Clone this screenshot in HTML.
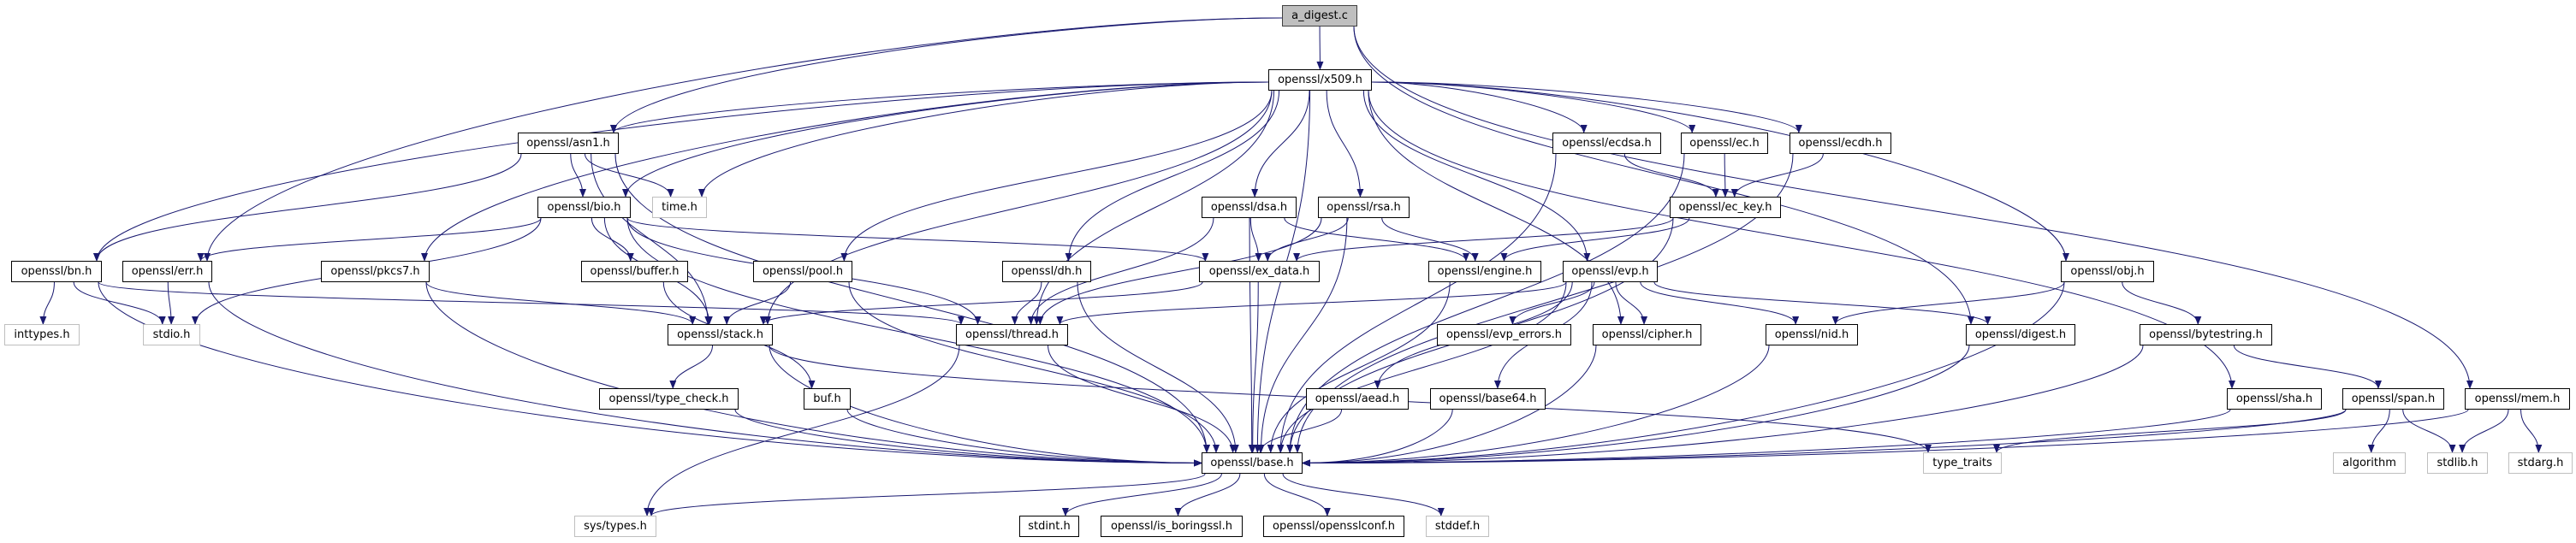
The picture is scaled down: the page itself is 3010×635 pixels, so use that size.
<!DOCTYPE html>
<html><head><meta charset="utf-8"><style>
html,body{margin:0;padding:0;background:#fff;}
#c{position:relative;width:3010px;height:635px;overflow:hidden;}
.n{position:absolute;box-sizing:border-box;height:25px;border:1px solid #000;background:#fff;font:13px "DejaVu Sans",sans-serif;line-height:23px;text-align:center;white-space:nowrap;color:#000;z-index:2;}
.g{border-color:#bfbfbf;}
.r{background:#bfbfbf;border-color:#404040;}
svg{position:absolute;left:0;top:0;z-index:1;}
</style></head><body><div id="c">
<svg id="s" width="3010" height="635" xmlns="http://www.w3.org/2000/svg"><defs><marker id="a" markerWidth="10" markerHeight="8" refX="9" refY="4" orient="auto" markerUnits="userSpaceOnUse"><path d="M0,0L10,4L0,8z" fill="#191970"/></marker></defs><g id="e" fill="none" stroke="#191970" stroke-width="1" marker-end="url(#a)"></g></svg>
<div class="n r" id="adigest" style="left:1498px;top:6px;width:88px">a_digest.c</div>
<div class="n" id="x509" style="left:1482px;top:81px;width:121px">openssl/x509.h</div>
<div class="n" id="asn1" style="left:605px;top:155px;width:118px">openssl/asn1.h</div>
<div class="n" id="ecdsa" style="left:1814px;top:155px;width:127px">openssl/ecdsa.h</div>
<div class="n" id="ec" style="left:1964px;top:155px;width:102px">openssl/ec.h</div>
<div class="n" id="ecdh" style="left:2091px;top:155px;width:119px">openssl/ecdh.h</div>
<div class="n" id="bio" style="left:628px;top:230px;width:109px">openssl/bio.h</div>
<div class="n g" id="time" style="left:762px;top:230px;width:64px">time.h</div>
<div class="n" id="dsa" style="left:1404px;top:230px;width:111px">openssl/dsa.h</div>
<div class="n" id="rsa" style="left:1540px;top:230px;width:107px">openssl/rsa.h</div>
<div class="n" id="eckey" style="left:1951px;top:230px;width:130px">openssl/ec_key.h</div>
<div class="n" id="bn" style="left:13px;top:305px;width:106px">openssl/bn.h</div>
<div class="n" id="err" style="left:143px;top:305px;width:105px">openssl/err.h</div>
<div class="n" id="pkcs7" style="left:375px;top:305px;width:127px">openssl/pkcs7.h</div>
<div class="n" id="buffer" style="left:679px;top:305px;width:125px">openssl/buffer.h</div>
<div class="n" id="pool" style="left:880px;top:305px;width:116px">openssl/pool.h</div>
<div class="n" id="dh" style="left:1171px;top:305px;width:104px">openssl/dh.h</div>
<div class="n" id="exdata" style="left:1401px;top:305px;width:141px">openssl/ex_data.h</div>
<div class="n" id="engine" style="left:1669px;top:305px;width:132px">openssl/engine.h</div>
<div class="n" id="evp" style="left:1826px;top:305px;width:111px">openssl/evp.h</div>
<div class="n" id="obj" style="left:2408px;top:305px;width:109px">openssl/obj.h</div>
<div class="n g" id="inttypes" style="left:5px;top:379px;width:88px">inttypes.h</div>
<div class="n g" id="stdio" style="left:167px;top:379px;width:67px">stdio.h</div>
<div class="n" id="stack" style="left:780px;top:379px;width:123px">openssl/stack.h</div>
<div class="n" id="thread" style="left:1117px;top:379px;width:131px">openssl/thread.h</div>
<div class="n" id="evperr" style="left:1679px;top:379px;width:157px">openssl/evp_errors.h</div>
<div class="n" id="cipher" style="left:1861px;top:379px;width:127px">openssl/cipher.h</div>
<div class="n" id="nid" style="left:2063px;top:379px;width:108px">openssl/nid.h</div>
<div class="n" id="digest" style="left:2297px;top:379px;width:128px">openssl/digest.h</div>
<div class="n" id="bytes" style="left:2500px;top:379px;width:155px">openssl/bytestring.h</div>
<div class="n" id="tcheck" style="left:700px;top:454px;width:163px">openssl/type_check.h</div>
<div class="n" id="buf" style="left:939px;top:454px;width:55px">buf.h</div>
<div class="n" id="aead" style="left:1526px;top:454px;width:120px">openssl/aead.h</div>
<div class="n" id="b64" style="left:1671px;top:454px;width:135px">openssl/base64.h</div>
<div class="n" id="sha" style="left:2602px;top:454px;width:111px">openssl/sha.h</div>
<div class="n" id="span" style="left:2737px;top:454px;width:119px">openssl/span.h</div>
<div class="n" id="mem" style="left:2880px;top:454px;width:123px">openssl/mem.h</div>
<div class="n" id="base" style="left:1404px;top:529px;width:118px">openssl/base.h</div>
<div class="n g" id="tt" style="left:2247px;top:529px;width:92px">type_traits</div>
<div class="n g" id="alg" style="left:2726px;top:529px;width:85px">algorithm</div>
<div class="n g" id="stdlib" style="left:2836px;top:529px;width:71px">stdlib.h</div>
<div class="n g" id="stdarg" style="left:2931px;top:529px;width:75px">stdarg.h</div>
<div class="n g" id="systypes" style="left:671px;top:603px;width:96px">sys/types.h</div>
<div class="n" id="stdint" style="left:1191px;top:603px;width:70px">stdint.h</div>
<div class="n" id="isb" style="left:1286px;top:603px;width:166px">openssl/is_boringssl.h</div>
<div class="n" id="conf" style="left:1476px;top:603px;width:165px">openssl/opensslconf.h</div>
<div class="n g" id="stddef" style="left:1666px;top:603px;width:74px">stddef.h</div>
</div>
<script>
var E=[["adigest","x509"],["adigest","asn1"],["adigest","err"],["adigest","digest"],["adigest","mem"],
["x509","asn1"],["x509","bio"],["x509","time"],["x509","pkcs7"],["x509","pool"],["x509","stack"],["x509","thread"],["x509","dh"],["x509","dsa"],["x509","rsa"],["x509","evp"],["x509","ecdsa"],["x509","ec"],["x509","ecdh"],["x509","cipher"],["x509","base"],["x509","obj"],["x509","sha"],["x509","bn"],
["asn1","bio"],["asn1","time"],["asn1","bn"],["asn1","stack"],["asn1","base"],
["bio","err"],["bio","stdio"],["bio","buffer"],["bio","stack"],["bio","thread"],["bio","exdata"],["bio","base"],
["bn","inttypes"],["bn","stdio"],["bn","thread"],["bn","base"],["err","stdio"],["err","base"],
["pkcs7","stack"],["pkcs7","base"],["buffer","buf"],["pool","stack"],["pool","base"],
["stack","tcheck"],["stack","base"],["stack","tt"],["tcheck","base"],["buf","base"],
["thread","base"],["thread","systypes"],
["dsa","exdata"],["dsa","thread"],["dsa","engine"],["dsa","base"],
["rsa","exdata"],["rsa","engine"],["rsa","thread"],["rsa","base"],
["dh","thread"],["dh","base"],["exdata","stack"],["exdata","base"],["engine","base"],
["ecdsa","eckey"],["ecdsa","base"],["ec","eckey"],["ec","base"],["eckey","exdata"],["eckey","engine"],["eckey","base"],
["ecdh","eckey"],["ecdh","base"],
["evp","thread"],["evp","evperr"],["evp","cipher"],["evp","nid"],["evp","digest"],["evp","aead"],["evp","b64"],["evp","base"],
["cipher","base"],["nid","base"],["digest","base"],["obj","nid"],["obj","bytes"],["obj","base"],
["bytes","span"],["bytes","base"],["sha","base"],["span","alg"],["span","stdlib"],["span","tt"],["span","base"],
["mem","stdlib"],["mem","stdarg"],["mem","base"],["aead","base"],["b64","base"],
["base","systypes"],["base","stdint"],["base","isb"],["base","conf"],["base","stddef"]];
function bx(id){var d=document.getElementById(id);return {x:d.offsetLeft,y:d.offsetTop,w:d.offsetWidth,h:d.offsetHeight};}
var g=document.getElementById("e"),h="";
E.forEach(function(p){var a=bx(p[0]),b=bx(p[1]);
var acx=a.x+a.w/2,bcx=b.x+b.w/2;
var sx,sy,tx,ty,c1x,c1y,c2x,c2y;
if(b.y<=a.y){sy=a.y;ty=b.y+b.h;sx=a.x+a.w*0.3;tx=b.x+b.w*0.7;
 h+='<path d="M'+sx+','+sy+' C'+sx+','+(sy-30)+' '+tx+','+(ty+30)+' '+tx+','+ty+'"/>';return;}
var dxv=bcx-acx,dyv=b.y-(a.y+a.h);
var right=dxv>0;
if((p[0]=="x509"||p[0]=="adigest")&&Math.abs(dxv)>4*dyv){sx=right?a.x+a.w:a.x;sy=a.y+a.h*0.6;c1x=sx+(right?1:-1)*Math.abs(dxv)*0.3;c1y=sy;}
else{sx=Math.max(a.x+4,Math.min(a.x+a.w-4,acx+dxv*0.15));sy=a.y+a.h;c1x=sx;c1y=sy+dyv*0.5;}
if(p[1]=="base"&&Math.abs(dxv)>3*dyv){tx=right?b.x:b.x+b.w;ty=b.y+b.h*0.5;c2x=tx-(right?1:-1)*Math.abs(dxv)*0.4;c2y=ty;}
else{tx=Math.max(b.x+6,Math.min(b.x+b.w-6,bcx-dxv*0.08));ty=b.y;c2x=tx;c2y=ty-dyv*0.5;}
h+='<path d="M'+sx+','+sy+' C'+c1x+','+c1y+' '+c2x+','+c2y+' '+tx+','+ty+'"/>';
});
g.innerHTML=h;
</script>
</body></html>
